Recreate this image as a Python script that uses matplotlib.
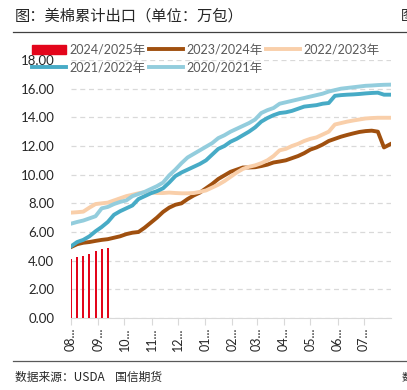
import matplotlib
matplotlib.use("Agg")
import matplotlib.pyplot as plt
from matplotlib.patches import Patch
from matplotlib.lines import Line2D
import pandas as pd

plt.rcParams['font.family'] = ['Lato', 'Noto Sans CJK SC', 'DejaVu Sans']

# ---- data (万包) ----
series_names = ["2024/2025年", "2023/2024年", "2022/2023年", "2021/2022年", "2020/2021年"]
start_date = "2024-08-01"
n_weeks = 53

bars_2425 = [4.14, 4.23, 4.30, 4.46, 4.70, 4.79, 4.88]

line_2324 = [4.95, 5.15, 5.25, 5.30, 5.38, 5.45, 5.50, 5.60, 5.70, 5.85, 5.95, 6.00, 6.30, 6.65,
             7.00, 7.40, 7.70, 7.90, 8.00, 8.30, 8.55, 8.75, 9.05, 9.35, 9.70, 9.95, 10.20, 10.35,
             10.50, 10.50, 10.52, 10.60, 10.70, 10.85, 10.92, 11.00, 11.15, 11.30, 11.50, 11.75,
             11.90, 12.10, 12.35, 12.50, 12.65, 12.77, 12.88, 12.98, 13.04, 13.07, 13.00, 11.90, 12.12]

line_2223 = [7.35, 7.38, 7.42, 7.70, 7.95, 8.00, 8.05, 8.20, 8.35, 8.50, 8.60, 8.70, 8.78, 8.76,
             8.72, 8.72, 8.75, 8.72, 8.70, 8.70, 8.72, 8.80, 8.90, 9.10, 9.30, 9.55, 9.85, 10.15,
             10.40, 10.55, 10.65, 10.80, 11.00, 11.30, 11.70, 11.80, 12.00, 12.15, 12.35, 12.50,
             12.60, 12.80, 13.00, 13.50, 13.60, 13.70, 13.78, 13.85, 13.92, 13.95, 13.97, 13.97, 13.97]

line_2122 = [5.00, 5.30, 5.45, 5.70, 6.05, 6.35, 6.70, 7.20, 7.45, 7.65, 7.85, 8.30, 8.50, 8.70,
             8.85, 9.05, 9.45, 9.90, 10.15, 10.35, 10.55, 10.75, 11.00, 11.40, 11.80, 12.00, 12.30,
             12.50, 12.75, 13.00, 13.30, 13.70, 13.95, 14.15, 14.30, 14.35, 14.45, 14.60, 14.75,
             14.80, 14.85, 14.95, 15.00, 15.50, 15.55, 15.58, 15.60, 15.63, 15.67, 15.70, 15.72,
             15.58, 15.58]

line_2021 = [6.58, 6.70, 6.80, 6.95, 7.10, 7.65, 7.75, 7.95, 8.10, 8.20, 8.50, 8.65, 8.80, 9.00,
             9.20, 9.45, 9.95, 10.35, 10.80, 11.20, 11.45, 11.70, 11.95, 12.20, 12.55, 12.75, 13.00,
             13.20, 13.40, 13.60, 13.85, 14.30, 14.50, 14.65, 14.95, 15.05, 15.15, 15.25, 15.35,
             15.45, 15.55, 15.65, 15.80, 15.90, 16.00, 16.05, 16.10, 16.15, 16.20, 16.22, 16.25,
             16.27, 16.28]

month_labels = ["08...", "09...", "10...", "11...", "12...", "01...", "02...",
                "03...", "04...", "05...", "06...", "07..."]
y_ticks = [0, 2, 4, 6, 8, 10, 12, 14, 16, 18]

colors = ["#E3051B", "#A0500F", "#F9CFAA", "#47ABC6", "#93CDDD"]

# ---- figure ----
W, H = 407, 390
fig = plt.figure(figsize=(W / 100, H / 100), dpi=100)
ax = fig.add_axes([71 / W, 1 - 318 / H, (391 - 71) / W, (318 - 60) / H])

dates = pd.date_range(start_date, periods=n_weeks, freq="7D")
bar_dates = dates[:len(bars_2425)]

ax.bar(bar_dates, bars_2425, width=2.3, color=colors[0], zorder=3)
lines_data = [line_2324, line_2223, line_2122, line_2021]
for vals, c in zip(lines_data, colors[1:]):
    ax.plot(dates, vals, color=c, lw=2.8, solid_joinstyle="round", zorder=4)

x0 = pd.Timestamp(start_date)
ax.set_xlim(x0, x0 + pd.DateOffset(years=1))
ax.set_ylim(0, 18)

month_ticks = pd.date_range(start_date, periods=12, freq="MS")
ax.set_xticks(month_ticks)
ax.set_xticklabels(month_labels, rotation=90, fontsize=9, color="#262626")
ax.set_yticks(y_ticks)
ax.set_yticklabels([f"{v:.2f}" for v in y_ticks], fontsize=9.5, color="#262626")

ax.tick_params(axis="x", length=5, color="#d9d9d9", pad=2)
ax.tick_params(axis="y", length=0, pad=12)
for s in ["top", "right", "left"]:
    ax.spines[s].set_visible(False)
ax.spines["bottom"].set_color("#d9d9d9")
ax.grid(axis="y", color="#d9d9d9", linestyle=(0, (4, 3)), lw=0.9)
ax.set_axisbelow(True)

# legend (column-wise fill -> reorder for row-wise)
handles = [Patch(color=colors[0])] + [Line2D([], [], color=c, lw=2.8) for c in colors[1:]]
order = [0, 3, 1, 4, 2]
leg = fig.legend([handles[i] for i in order], [series_names[i] for i in order],
                 ncol=3, loc="upper left", bbox_to_anchor=(32 / W, 1 - 44 / H),
                 frameon=False, fontsize=9, handlelength=2.7, handleheight=0.8,
                 handletextpad=0.3, columnspacing=0.25, labelspacing=0.45, borderpad=0,
                 borderaxespad=0)
for t in leg.get_texts():
    t.set_color("#595959")

# title, rules, source
cjk = ["Noto Sans CJK SC", "DejaVu Sans"]
fig.text(15 / W, 1 - 16 / H, "图：美棉累计出口（单位：万包）", family=cjk, fontsize=11,
         va="center", ha="left", color="#262626")
fig.text(401 / W, 1 - 16 / H, "图", family=cjk, fontsize=10, va="center", ha="left",
         color="#262626")
fig.add_artist(Line2D([13 / W, 1], [1 - 32 / H, 1 - 32 / H], color="#404040", lw=0.9))
fig.add_artist(Line2D([13 / W, 1], [1 - 361 / H, 1 - 361 / H], color="#595959", lw=0.9))
fig.text(15 / W, 1 - 377 / H, "数据来源：USDA    国信期货", family=cjk, fontsize=8.5,
         va="center", ha="left", color="#262626")
fig.text(402 / W, 1 - 377 / H, "数", family=cjk, fontsize=8, va="center", ha="left",
         color="#262626")

fig.savefig("out.png", dpi=100, facecolor="white")
